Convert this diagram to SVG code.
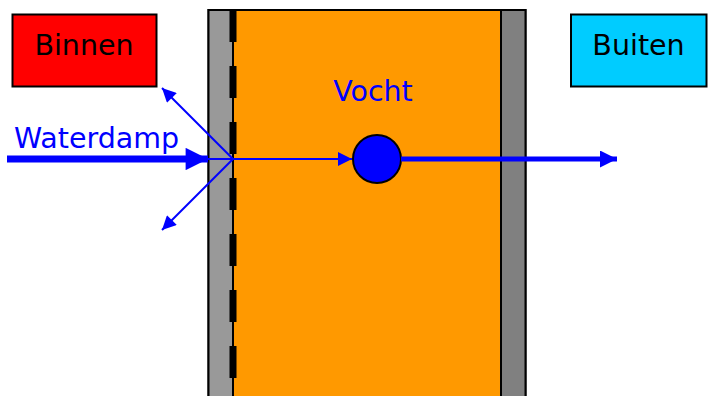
<svg xmlns="http://www.w3.org/2000/svg" width="708" height="396" viewBox="0 0 708 396">
<style>
.lbl{font-family:"DejaVu Sans","Verdana",sans-serif;font-size:28.5px}
.box{stroke:#000;stroke-width:2}
.thin{stroke:#0000ff;stroke-width:2;fill:none}
</style>
<defs>
<marker id="ah" viewBox="0 0 10 10" refX="10" refY="5" markerWidth="8" markerHeight="7" markerUnits="strokeWidth" orient="auto"><path d="M0,0 L10,5 L0,10 Z" fill="#0000ff"/></marker>
<marker id="ahB" viewBox="0 0 10 10" refX="10" refY="5" markerWidth="3.3" markerHeight="3.2" markerUnits="strokeWidth" orient="auto"><path d="M0,0 L10,5 L0,10 Z" fill="#0000ff"/></marker>
<marker id="ahM" viewBox="0 0 10 10" refX="10" refY="5" markerWidth="3.6" markerHeight="3.4" markerUnits="strokeWidth" orient="auto"><path d="M0,0 L10,5 L0,10 Z" fill="#0000ff"/></marker>
</defs>
<rect width="708" height="396" fill="#fff"/>
<g id="wall">
<rect x="208.5" y="10" width="317" height="400" fill="#ff9900" stroke="#000" stroke-width="2"/>
<rect x="208.5" y="10" width="24.5" height="400" fill="#999999" stroke="#000" stroke-width="2"/>
<rect x="501" y="10" width="24.5" height="400" fill="#808080" stroke="#000" stroke-width="2"/>
<line x1="233" y1="10" x2="233" y2="400" stroke="#000" stroke-width="7" stroke-dasharray="32 24"/>
</g>
<g id="binnen">
<rect class="box" x="12.5" y="14.5" width="144" height="72" fill="#ff0000"/>
<text class="lbl" x="84" y="55" text-anchor="middle" fill="#000">Binnen</text>
</g>
<g id="buiten">
<rect class="box" x="571" y="14.5" width="135.5" height="72" fill="#00ccff"/>
<text class="lbl" x="638.5" y="55" text-anchor="middle" fill="#000">Buiten</text>
</g>
<g id="vocht-label">
<text class="lbl" x="373" y="101" text-anchor="middle" fill="#0000ff">Vocht</text>
</g>
<g id="waterdamp-label">
<text class="lbl" x="14" y="148" fill="#0000ff">Waterdamp</text>
</g>
<g id="vocht">
<circle cx="377" cy="159" r="24" fill="#0000ff" stroke="#000" stroke-width="2"/>
</g>
<g id="connectors">
<line x1="7" y1="159" x2="208" y2="159" stroke="#0000ff" stroke-width="7" marker-end="url(#ahB)"/>
<line x1="233" y1="159" x2="162" y2="88" class="thin" marker-end="url(#ah)"/>
<line x1="233" y1="159" x2="162" y2="230" class="thin" marker-end="url(#ah)"/>
<line x1="208" y1="159" x2="352" y2="159" class="thin" marker-end="url(#ah)"/>
<line x1="401" y1="159" x2="617" y2="159" stroke="#0000ff" stroke-width="5" marker-end="url(#ahM)"/>
</g>
</svg>
